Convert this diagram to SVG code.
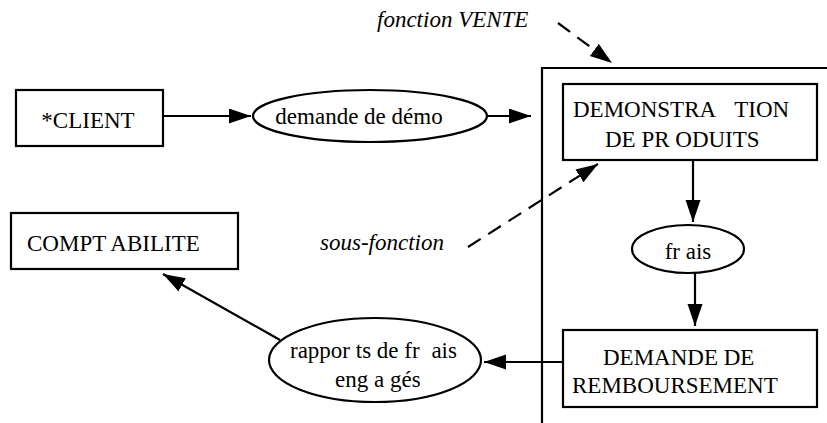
<svg xmlns="http://www.w3.org/2000/svg" width="827" height="423" viewBox="0 0 827 423">
<style>
.box{fill:#fff;stroke:#000;stroke-width:2.2}
.ell{fill:#fff;stroke:#000;stroke-width:2.2}
.t{font-family:"Liberation Serif","Times New Roman",serif;font-size:23px;fill:#000}
.it{font-family:"Liberation Serif","Times New Roman",serif;font-size:23px;font-style:italic;fill:#000}
.c{fill:none;stroke:#000;stroke-width:2.2}
.d{fill:none;stroke:#000;stroke-width:2.2;stroke-dasharray:15 9}
</style>
<defs>
<marker id="ah" markerUnits="userSpaceOnUse" markerWidth="24" markerHeight="16" refX="22" refY="7.5" orient="auto">
<path d="M0,0 L22,7.5 L0,15 z" fill="#000"/>
</marker>
</defs>
<g id="frame-vente">
<polyline class="c" points="827,68 542,68 542,423"/>
</g>
<g id="labels">
<text class="it" x="377" y="27">fonction VENTE</text>
<text class="it" x="320" y="250">sous-fonction</text>
</g>
<g id="connectors">
<line class="c" x1="163" y1="116" x2="251" y2="116" marker-end="url(#ah)"/>
<line class="c" x1="488" y1="116" x2="531" y2="116" marker-end="url(#ah)"/>
<line class="c" x1="693" y1="160" x2="693" y2="222" marker-end="url(#ah)"/>
<line class="c" x1="695" y1="273" x2="695" y2="326" marker-end="url(#ah)"/>
<line class="c" x1="563" y1="362" x2="484" y2="362" marker-end="url(#ah)"/>
<line class="c" x1="280" y1="340" x2="163" y2="274" marker-end="url(#ah)"/>
<line class="d" x1="558" y1="23" x2="612" y2="63" marker-end="url(#ah)"/>
<line class="d" x1="468" y1="247" x2="598" y2="164" marker-end="url(#ah)"/>
</g>
<g id="client">
<rect class="box" x="16" y="90" width="147" height="56"/>
<text class="t" x="88" y="128" text-anchor="middle">*CLIENT</text>
</g>
<g id="demande-demo">
<ellipse class="ell" cx="370" cy="116" rx="117" ry="26"/>
<text class="t" x="359" y="124" text-anchor="middle">demande de démo</text>
</g>
<g id="demonstration">
<rect class="box" x="563" y="84" width="254" height="76"/>
<text class="t" x="573" y="117">DEMONSTRA <tspan dx="14">TION</tspan></text>
<text class="t" x="605" y="147">DE PR ODUITS</text>
</g>
<g id="frais">
<ellipse class="ell" cx="688" cy="249" rx="56" ry="24"/>
<text class="t" x="688" y="259" text-anchor="middle">fr ais</text>
</g>
<g id="remboursement">
<rect class="box" x="563" y="330" width="254" height="77"/>
<text class="t" x="603" y="365">DEMANDE DE</text>
<text class="t" x="572" y="393">REMBOURSEMENT</text>
</g>
<g id="rapports">
<ellipse class="ell" cx="375" cy="360" rx="106" ry="42"/>
<text class="t" x="290" y="358">rappor ts de fr <tspan dx="6">ais</tspan></text>
<text class="t" x="335" y="387">eng a gés</text>
</g>
<g id="comptabilite">
<rect class="box" x="11" y="213" width="227" height="56"/>
<text class="t" x="27" y="251">COMPT ABILITE</text>
</g>
</svg>
